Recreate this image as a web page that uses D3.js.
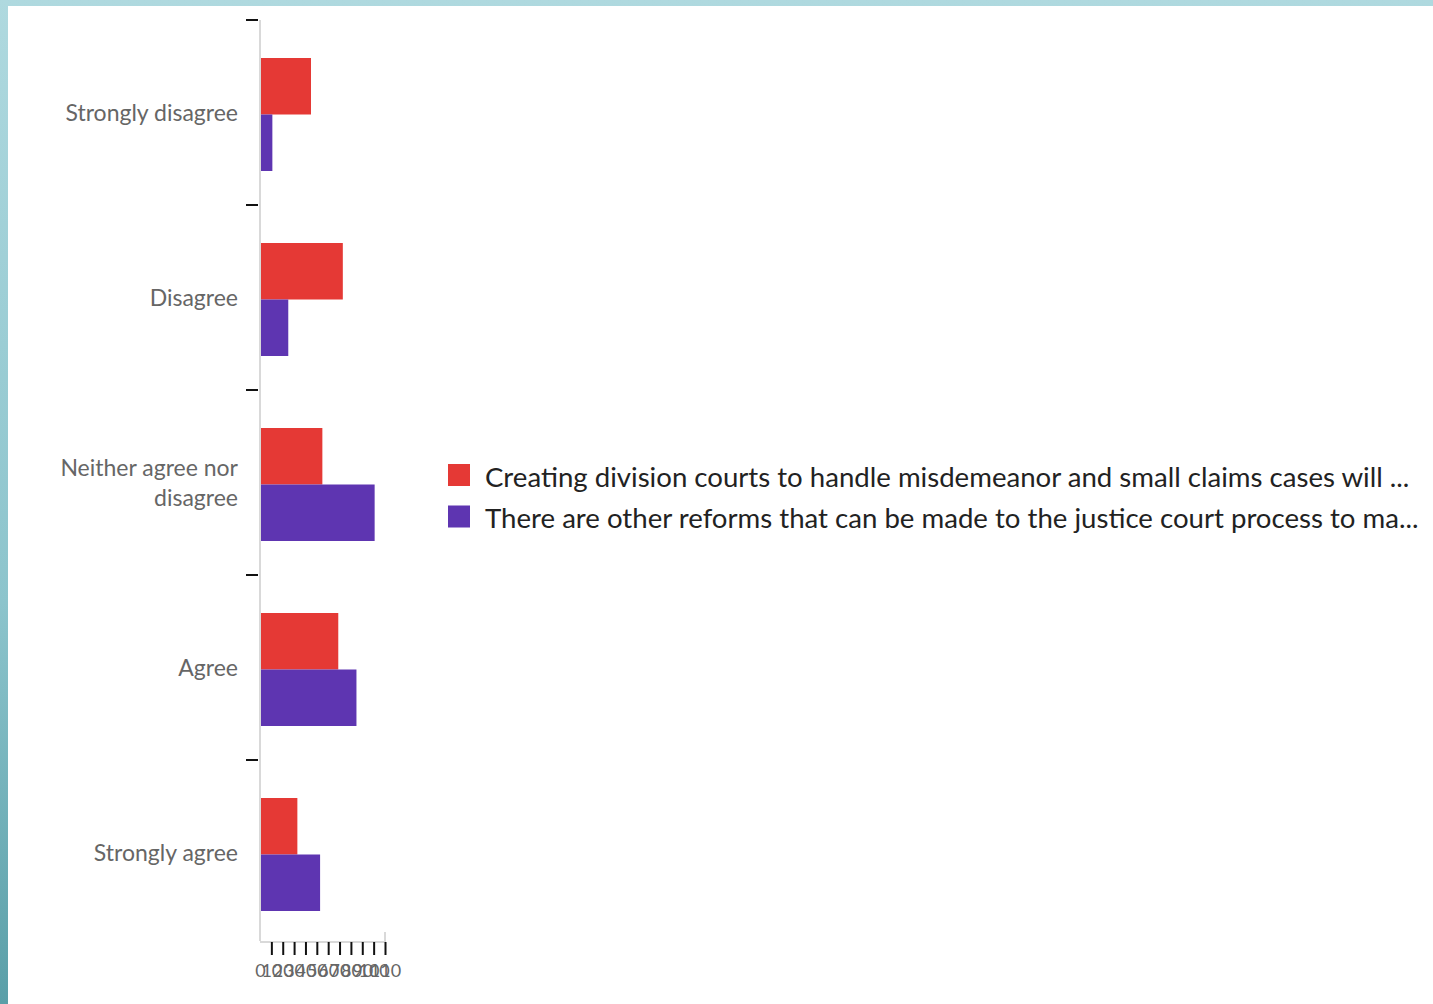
<!DOCTYPE html>
<html>
<head>
<meta charset="utf-8">
<script src="https://cdn.jsdelivr.net/npm/d3@7"></script>
<style>
  html, body { margin: 0; padding: 0; }
  body { width: 1433px; height: 1004px; overflow: hidden;
         background: linear-gradient(to bottom, #afd9df 0%, #8cc4cc 60%, #5a9fa8 100%); }
  #panel { position: absolute; left: 8px; top: 6px; width: 1425px; height: 998px; background: #fff; }
  svg { position: absolute; left: 0; top: 0; }
  text { font-family: Lato, sans-serif; }
</style>
</head>
<body>
<div id="panel"></div>
<svg id="chart" width="1433" height="1004"></svg>
<script>
// Response categories (top to bottom)
const categories = ["Strongly disagree", "Disagree", "Neither agree nor disagree", "Agree", "Strongly agree"];
// Two survey statements
const seriesNames = [
  "Creating division courts to handle misdemeanor and small claims cases will ...",
  "There are other reforms that can be made to the justice court process to ma..."
];
const seriesColors = ["#e53935", "#5e35b1"];
// Response counts per category for each statement
const creatingDivisionCourts = [44, 72, 54, 68, 32];
const otherReforms = [10, 24, 100, 84, 52];
const xTicks = [0, 10, 20, 30, 40, 50, 60, 70, 80, 90, 100, 110];

const seriesValues = [creatingDivisionCourts, otherReforms];
const rows = categories.map((c, i) => ({
  category: c,
  values: seriesValues.map((vals, s) => ({ series: s, value: vals[i] }))
}));

const svg = d3.select("#chart");
const plotLeft = 260, plotRight = 385, plotTop = 20, plotBottom = 945, axisY = 941;

const x = d3.scaleLinear().domain([0, 110]).range([plotLeft, plotRight]);
const y = d3.scaleBand().domain(categories).range([plotTop, plotBottom]).paddingInner(0).paddingOuter(0);
// Bars sit slightly below the middle of each category band
const ySub = d3.scaleBand().domain(d3.range(seriesValues.length)).range([38, 151])
  .paddingInner(0).paddingOuter(0);

// Bars
const groups = svg.append("g").selectAll("g").data(rows).join("g")
  .attr("transform", d => `translate(0,${y(d.category)})`);
groups.selectAll("rect").data(d => d.values).join("rect")
  .attr("x", x(0) + 1)
  .attr("y", d => ySub(d.series))
  .attr("height", ySub.bandwidth())
  .attr("width", d => x(d.value) - x(0))
  .attr("fill", d => seriesColors[d.series]);

// Left axis: light domain line, dark ticks at category boundaries
svg.append("line")
  .attr("x1", plotLeft).attr("x2", plotLeft).attr("y1", plotTop).attr("y2", axisY)
  .attr("stroke", "#d9d9d9").attr("stroke-width", 2);
svg.append("g").selectAll("line").data(categories).join("line")
  .attr("x1", plotLeft - 14).attr("x2", plotLeft - 2)
  .attr("y1", d => y(d)).attr("y2", d => y(d))
  .attr("stroke", "#111").attr("stroke-width", 2);

// Category labels (wrapped where long)
const wrapLabel = { "Neither agree nor disagree": ["Neither agree nor", "disagree"] };
const labels = svg.append("g").selectAll("text").data(categories).join("text")
  .attr("text-anchor", "end")
  .attr("fill", "#666")
  .attr("font-size", 23)
  .attr("x", plotLeft - 22)
  .attr("y", d => y(d) + y.bandwidth() / 2);
labels.each(function (d) {
  const lines = wrapLabel[d] || [d];
  const t = d3.select(this);
  lines.forEach((ln, i) => {
    t.append("tspan").attr("x", plotLeft - 22)
      .attr("dy", i === 0 ? `${0.35 - (lines.length - 1) * 0.65}em` : "1.3em")
      .text(ln);
  });
});

// Bottom axis
const xAxis = d3.axisBottom(x).tickValues(xTicks).tickSize(13).tickSizeOuter(0).tickPadding(9);
const gx = svg.append("g").attr("transform", `translate(0,${axisY + 1})`).call(xAxis);
gx.select(".domain").attr("d", `M${x(0)},0H${x(110)}V-10`).attr("stroke", "#d9d9d9").attr("stroke-width", 2).attr("fill", "none");
gx.selectAll(".tick line").attr("stroke", "#111").attr("stroke-width", 2)
  .attr("opacity", d => d === 0 ? 0 : 1);
gx.selectAll(".tick text").attr("fill", "#666").attr("font-size", 18).attr("font-family", "Lato, sans-serif");

// Legend
const legend = svg.append("g").attr("transform", "translate(448,464)");
const items = legend.selectAll("g").data(seriesNames).join("g")
  .attr("transform", (d, i) => `translate(0,${i * 41.5})`);
items.append("rect").attr("width", 22).attr("height", 22)
  .attr("fill", (d, i) => seriesColors[i]);
items.append("text").attr("x", 37).attr("y", 13).attr("dy", "0.36em")
  .attr("font-size", 27.6).attr("fill", "#222")
  .text(d => d);
</script>
</body>
</html>
